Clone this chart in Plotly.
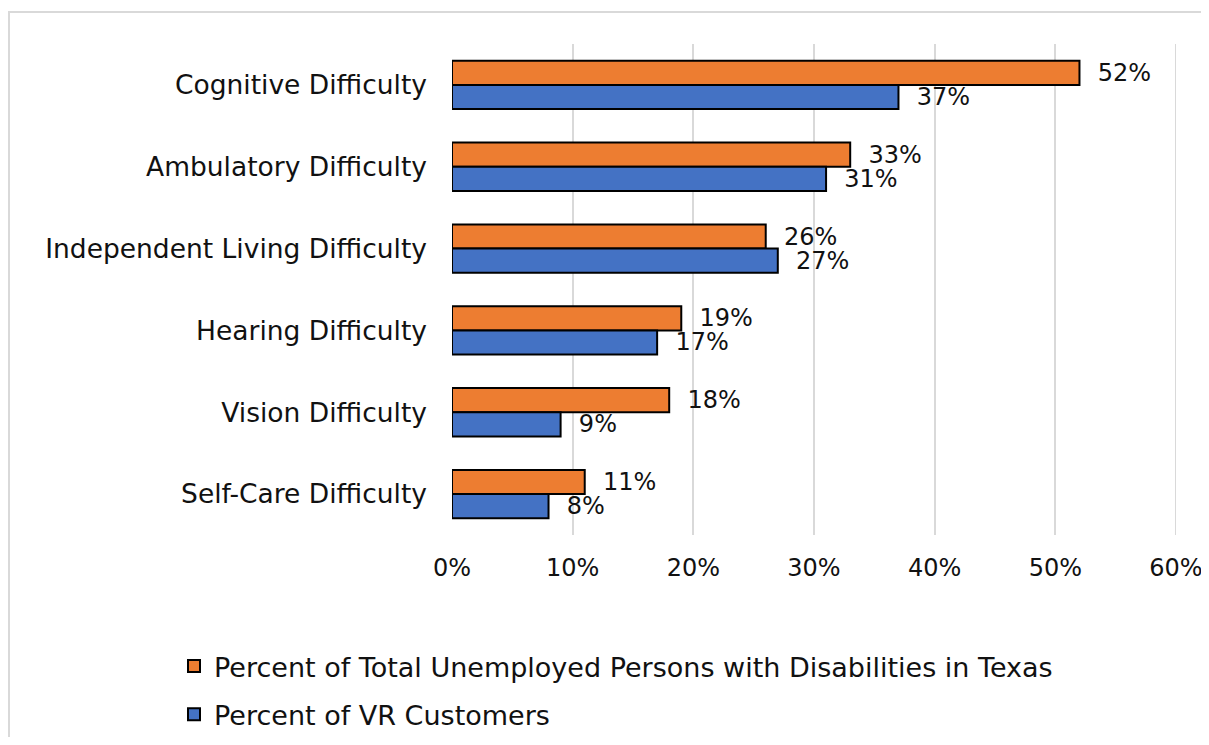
import plotly.graph_objects as go

categories = ["Cognitive Difficulty", "Ambulatory Difficulty", "Independent Living Difficulty",
              "Hearing Difficulty", "Vision Difficulty", "Self-Care Difficulty"]
texas_pct = [52, 33, 26, 19, 18, 11]
vr_pct = [37, 31, 27, 17, 9, 8]
series_names = ["Percent of Total Unemployed Persons with Disabilities in Texas",
                "Percent of VR Customers"]
x_ticks = [0, 10, 20, 30, 40, 50, 60]
x_tick_labels = [f"{v}%" for v in x_ticks]

# figure is placed at an 8px page offset
W, H = 1201, 729
L, R, T, B = 444, 1168, 36, 527

fig = go.Figure()
for name, vals, col, grp in [(series_names[0], texas_pct, "#ED7D31", "a"),
                             (series_names[1], vr_pct, "#4472C4", "b")]:
    fig.add_trace(go.Bar(
        y=categories, x=vals, orientation="h", name=name, legendgroup=grp,
        marker=dict(color=col, line=dict(color="#000000", width=2)),
        text=[f"  {v}%" for v in vals], textposition="outside",
        textfont=dict(size=24, color="#111111", family="DejaVu Sans"),
        constraintext="none", cliponaxis=False,
    ))

def px_x(p):
    return (p - L) / (R - L)

def px_y(p):
    return (B - p) / (B - T)

fig.update_layout(
    width=W, height=H,
    margin=dict(l=L, r=W - R, t=T, b=H - B, autoexpand=False),
    paper_bgcolor="white", plot_bgcolor="white",
    font=dict(family="DejaVu Sans", size=24, color="#111111"),
    barmode="group", bargap=0.41, bargroupgap=0,
    showlegend=True,
    legend=dict(x=px_x(166), y=px_y(634), xanchor="left", yanchor="top",
                orientation="v", traceorder="grouped", tracegroupgap=10,
                font=dict(size=27, family="DejaVu Sans", color="#111111"),
                bgcolor="rgba(0,0,0,0)"),
    xaxis=dict(range=[0, 60], tickvals=x_ticks, ticktext=x_tick_labels,
               showgrid=True, gridcolor="#d9d9d9", gridwidth=2,
               zeroline=False, showline=False, ticks="",
               ticklabeloverflow="allow",
               ticklabelstandoff=16, tickfont=dict(size=24)),
    yaxis=dict(autorange="reversed", showgrid=False, zeroline=False, showline=False,
               ticks="", ticklabelstandoff=24, tickfont=dict(size=26.5)),
    shapes=[dict(type="rect", xref="paper", yref="paper",
                 x0=px_x(1), x1=px_x(1260), y0=px_y(4), y1=px_y(780),
                 line=dict(color="#d9d9d9", width=2), fillcolor="rgba(0,0,0,0)",
                 layer="below"),
            dict(type="line", xref="x", yref="paper",
                 x0=x_ticks[-1], x1=x_ticks[-1], y0=0, y1=1,
                 line=dict(color="#d9d9d9", width=2), layer="below")],
)

fig.write_html("out.html")
